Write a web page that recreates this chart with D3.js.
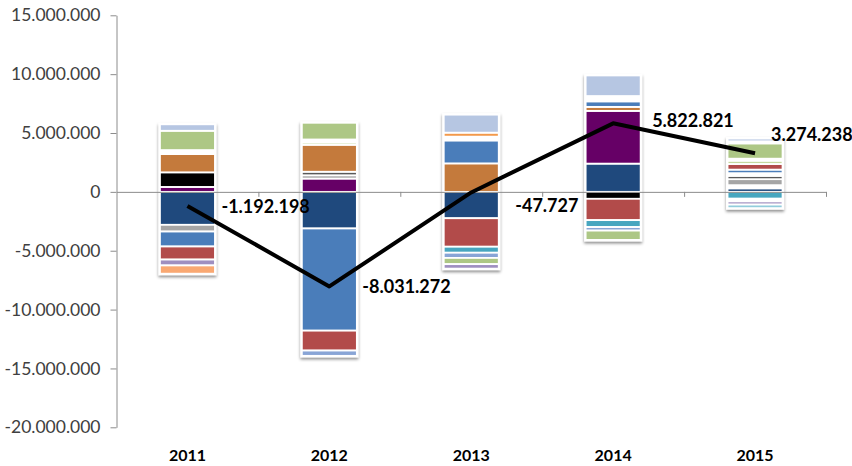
<!DOCTYPE html>
<html>
<head>
<meta charset="utf-8">
<script src="https://cdn.jsdelivr.net/npm/d3@7"></script>
<style>
  html, body { margin: 0; padding: 0; background: #fff; }
  svg { display: block; }
</style>
</head>
<body>
<svg id="chart" width="852" height="466"></svg>
<script>
const years = ['2011', '2012', '2013', '2014', '2015'];
const totals = [-1192198, -8031272, -47727, 5822821, 3274238];
const yTicks = [15000000, 10000000, 5000000, 0, -5000000, -10000000, -15000000, -20000000];

// stacked components, one value per year (series order = stacking order)
const darkBlue    = [-2800000, -3110000, -2240000,  2400000,  300000];
const purple      = [  420000,  1130000,        0,  4480000,       0];
const black       = [ 1240000,        0,        0,  -590000,       0];
const gap1        = [       0,        0,        0,        0,  270000];
const gray        = [ -570000,   280000,        0,        0,  510000];
const darkGray    = [       0,   300000,        0,        0,  280000];
const orange      = [ 1550000,  2290000,  2420000,   340000,       0];
const gap2        = [  340000,        0,        0,        0,  230000];
const blue        = [-1270000, -8680000,  1950000,   470000,  300000];
const gap3        = [       0,        0,   320000,   450000,       0];
const lightOrange = [       0,        0,   340000,        0,       0];
const red         = [-1110000, -1690000, -2420000, -1810000,  480000];
const aqua        = [       0,        0,  -510000,  -590000, -580000];
const gap6        = [       0,        0,        0,        0, -230000];
const periwinkle  = [       0,  -450000,  -440000,  -300000,       0];
const lightGreen  = [       0,   200000,        0,        0,  280000];
const gap4        = [       0,   250000,        0,        0,  170000];
const green       = [ 1640000,  1420000,  -530000,  -790000, 1300000];
const gap5        = [       0,        0,        0,        0,  170000];
const lavender    = [ -500000,        0,  -380000,        0, -270000];
const peach       = [ -700000,        0,        0,        0,       0];
const paleAqua    = [       0,        0,        0,        0, -300000];
const lightBlue   = [  550000,        0,  1530000,  1750000,  240000];

const series = [
  ['darkBlue', darkBlue, '#1F497D'],
  ['purple', purple, '#660066'],
  ['black', black, '#000000'],
  ['gap1', gap1, '#ffffff'],
  ['gray', gray, '#A5A5A5'],
  ['darkGray', darkGray, '#595959'],
  ['orange', orange, '#C47A3C'],
  ['gap2', gap2, '#ffffff'],
  ['blue', blue, '#4A7DBA'],
  ['gap3', gap3, '#ffffff'],
  ['lightOrange', lightOrange, '#F39A4B'],
  ['red', red, '#B24B4A'],
  ['aqua', aqua, '#47A6BF'],
  ['gap6', gap6, '#ffffff'],
  ['periwinkle', periwinkle, '#89A5D6'],
  ['lightGreen', lightGreen, '#C6D9A0'],
  ['gap4', gap4, '#ffffff'],
  ['green', green, '#ADC785'],
  ['gap5', gap5, '#ffffff'],
  ['lavender', lavender, '#9F8FC0'],
  ['peach', peach, '#F9A872'],
  ['paleAqua', paleAqua, '#92CDDC'],
  ['lightBlue', lightBlue, '#B6C6E2']
];

const svg = d3.select('#chart');
const plotLeft = 116.5, plotRight = 826, plotTop = 15.3, plotBottom = 427.3;

const locale = d3.formatLocale({ decimal: ',', thousands: '.', grouping: [3], currency: ['', ''], minus: '-' });
const fmt = locale.format(',d');

const x = d3.scaleBand().domain(years).range([plotLeft, plotRight]).paddingInner(0).paddingOuter(0);
const y = d3.scaleLinear().domain([-20000000, 15000000]).range([plotBottom, plotTop]);
const barW = 55;

const rows = years.map((yr, i) => {
  const r = { year: yr };
  series.forEach(s => { r[s[0]] = s[1][i]; });
  return r;
});
const colorOf = {};
series.forEach(s => { colorOf[s[0]] = s[2]; });

const stacked = d3.stack()
  .keys(series.map(s => s[0]))
  .offset(d3.stackOffsetDiverging)(rows);

const defs = svg.append('defs');
const f = defs.append('filter').attr('id', 'shadow')
  .attr('x', '-30%').attr('y', '-10%').attr('width', '160%').attr('height', '120%');
f.append('feDropShadow').attr('dx', 0).attr('dy', 2).attr('stdDeviation', 1.8)
  .attr('flood-color', '#000').attr('flood-opacity', 0.45);

// y axis
const yAxis = svg.append('g')
  .attr('transform', `translate(${plotLeft},0)`)
  .call(d3.axisLeft(y).tickValues(yTicks).tickSize(6).tickSizeOuter(0).tickPadding(10).tickFormat(fmt));
yAxis.select('.domain').attr('stroke', '#8C8C8C');
yAxis.selectAll('.tick line').attr('stroke', '#8C8C8C');
yAxis.selectAll('.tick text')
  .attr('font-family', 'Lato, sans-serif').attr('font-size', 17.5).attr('fill', '#404040');

// bars: white backing with a soft shadow, then the segments
const bars = svg.append('g');
years.forEach((yr, i) => {
  let lo = 0, hi = 0;
  stacked.forEach(s => { lo = Math.min(lo, s[i][0], s[i][1]); hi = Math.max(hi, s[i][0], s[i][1]); });
  const cx = x(yr) + x.bandwidth() / 2;
  bars.append('rect')
    .attr('x', cx - barW / 2 - 1.5).attr('width', barW + 3)
    .attr('y', y(hi) - 1.5).attr('height', y(lo) - y(hi) + 3)
    .attr('fill', '#fff').attr('filter', 'url(#shadow)');
});

const xAxis = svg.append('g')
  .attr('transform', `translate(0,${y(0)})`)
  .call(d3.axisBottom(d3.scaleLinear().domain([0, 5]).range([plotLeft, plotRight]))
    .tickValues([1, 2, 3, 4, 5]).tickSize(5).tickSizeOuter(0).tickFormat(''));
xAxis.select('.domain').attr('stroke', '#8C8C8C');
xAxis.selectAll('.tick line').attr('stroke', '#8C8C8C');

stacked.forEach(s => {
  bars.append('g').selectAll('rect')
    .data(s.filter(d => d[1] !== d[0]))
    .join('rect')
    .attr('x', d => x(d.data.year) + x.bandwidth() / 2 - barW / 2)
    .attr('width', barW)
    .attr('y', d => y(Math.max(d[0], d[1])))
    .attr('height', d => Math.abs(y(d[0]) - y(d[1])))
    .attr('fill', colorOf[s.key])
    .attr('stroke', '#fff')
    .attr('stroke-width', 1.8);
});

// total line
const pts = years.map((yr, i) => [x(yr) + x.bandwidth() / 2, y(totals[i])]);
svg.append('path')
  .attr('d', d3.line()(pts))
  .attr('fill', 'none').attr('stroke', '#000').attr('stroke-width', 4)
  .attr('stroke-linejoin', 'round');

// total labels, nudged like the original
const labelNudge = [[34, 1], [33, 0], [44, 13], [39, -3], [16, -19]];
svg.append('g').selectAll('text')
  .data(totals)
  .join('text')
  .attr('x', (d, i) => pts[i][0] + labelNudge[i][0])
  .attr('y', (d, i) => pts[i][1] + labelNudge[i][1])
  .attr('dy', '0.35em')
  .attr('font-family', 'Lato, sans-serif').attr('font-weight', 'bold').attr('font-size', 18)
  .text(d => fmt(d));

// year labels
svg.append('g').selectAll('text')
  .data(years)
  .join('text')
  .attr('x', d => x(d) + x.bandwidth() / 2)
  .attr('y', 461)
  .attr('text-anchor', 'middle')
  .attr('font-family', 'Lato, sans-serif').attr('font-weight', 'bold').attr('font-size', 16)
  .text(d => d);
</script>
</body>
</html>
